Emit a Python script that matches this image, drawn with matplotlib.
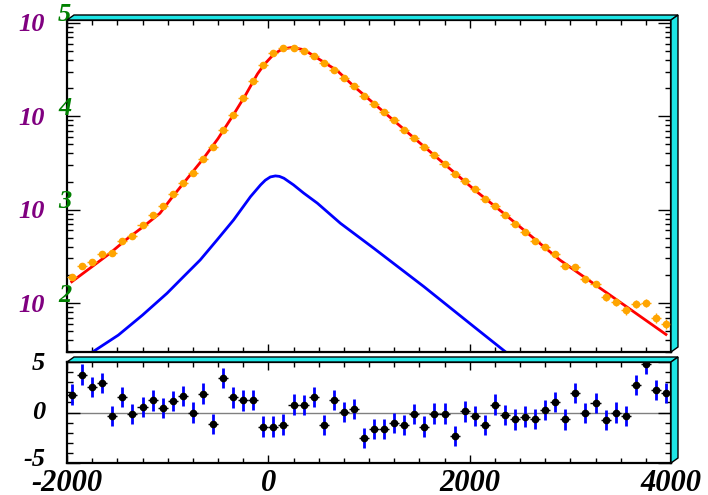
import numpy as np
import matplotlib
matplotlib.use("Agg")
import matplotlib.pyplot as plt
from matplotlib.patches import Polygon
from matplotlib.transforms import offset_copy, blended_transform_factory
from matplotlib.ticker import MultipleLocator, LogLocator, NullFormatter

plt.rcParams.update({
    "axes.unicode_minus": False,
    "xtick.direction": "in", "ytick.direction": "in",
    "xtick.top": True, "ytick.right": True,
    "xtick.major.size": 6, "xtick.minor.size": 3.5,
    "ytick.major.size": 9.5, "ytick.minor.size": 4.5,
    "xtick.major.width": 1, "xtick.minor.width": 1,
    "ytick.major.width": 1, "ytick.minor.width": 1,
    "xtick.major.pad": 4,
})

bin_width = 100
bin_centers = np.arange(-1950, 4000, bin_width)
counts = [191, 250, 273, 333, 341, 465, 526, 685, 877, 1096,
          1463, 1932, 2494, 3524, 4700, 7150, 10360, 15480, 23940, 35300,
          47450, 53200, 54100, 49400, 43650, 36700, 31200, 25600, 21000, 16560,
          13590, 11070, 9000, 7200, 5910, 4700, 3855, 3110, 2415, 2030,
          1652, 1291, 1104, 871, 703, 577, 465, 395, 335, 251,
          245, 179, 161, 117, 103, 84, 97.5, 101, 70, 60]
counts = np.array(counts)
count_err = np.sqrt(counts)

fit_x = [-1953, -1738, -1573, -1408, -1242, -1077, -950, -800, -650, -500,
         -350, -230, -109, -43, 56, 139, 233, 354, 486, 685,
         850, 1250, 1650, 2050, 2350, 2896, 3393, 3950]
fit_log = [2.228, 2.400, 2.533, 2.683, 2.818, 2.961, 3.14, 3.34, 3.54, 3.76,
           4.01, 4.22, 4.451, 4.551, 4.666, 4.719, 4.736, 4.712, 4.623, 4.487,
           4.32, 3.95, 3.58, 3.21, 2.95, 2.461, 2.086, 1.664]

comp_x = [-1755, -1490, -1250, -1007, -843, -677, -510, -345, -177, -77,
          -30, 20, 70, 110, 155, 250, 350, 487, 716, 1048, 1546, 2043, 2365]
comp_log = [1.470, 1.657, 1.871, 2.104, 2.282, 2.461, 2.675, 2.890, 3.139, 3.265,
            3.315, 3.350, 3.361, 3.356, 3.336, 3.265, 3.178, 3.069, 2.854,
            2.586, 2.175, 1.746, 1.470]

pulls = [1.78, 3.76, 2.51, 2.94, -0.33, 1.55, -0.13, 0.56, 1.19, 0.46,
         1.12, 1.62, 0.0, 1.88, -1.16, 3.40, 1.49, 1.19, 1.25, -1.39,
         -1.39, -1.19, 0.79, 0.76, 1.52, -1.22, 1.22, 0.07, 0.33, -2.51,
         -1.65, -1.65, -1.02, -1.22, -0.17, -1.39, -0.10, -0.10, -2.34, 0.10,
         -0.36, -1.25, 0.79, -0.23, -0.69, -0.40, -0.63, 0.26, 1.02, -0.69,
         1.91, -0.07, 0.96, -0.76, 0.0, -0.33, 2.74, 4.79, 2.21, 1.95]
pull_err = 1.0

x_ticks = [-2000, 0, 2000, 4000]
decades = [2, 3, 4, 5]
pull_ticks = [-5, 0, 5]

W, H = 708, 495
fig = plt.figure(figsize=(W / 100, H / 100), dpi=100)
L, R = 67, 671
ax1 = fig.add_axes([L / W, 1 - 352 / H, (R - L) / W, (352 - 20) / H])
ax2 = fig.add_axes([L / W, 1 - 463 / H, (R - L) / W, (463 - 362) / H])

font = dict(family="Liberation Serif", weight="bold", style="italic")
cyan = "#1ee6e6"

ax1.errorbar(bin_centers, counts, xerr=bin_width / 2, yerr=count_err, fmt="o",
             color="orange", ms=4.5, elinewidth=1, capsize=0, zorder=3)
ax1.plot(fit_x, 10 ** np.array(fit_log), color="red", lw=2, zorder=2)
ax1.plot(comp_x, 10 ** np.array(comp_log), color="blue", lw=2, zorder=2)
ax1.set_yscale("log")
ax1.set_ylim(10 ** 1.476, 10 ** 5.03)
ax1.set_xlim(-2000, 4000)
ax1.yaxis.set_major_locator(LogLocator(base=10, numticks=10))
ax1.yaxis.set_minor_locator(LogLocator(base=10, subs=np.arange(2, 10), numticks=20))
ax1.yaxis.set_major_formatter(NullFormatter())
ax1.yaxis.set_minor_formatter(NullFormatter())
ax1.xaxis.set_major_locator(MultipleLocator(2000))
ax1.xaxis.set_minor_locator(MultipleLocator(250))
ax1.xaxis.set_major_formatter(NullFormatter())

tr1 = blended_transform_factory(ax1.transAxes, ax1.transData)
for d in decades:
    ax1.text(-0.036, 10 ** d, "10", transform=offset_copy(tr1, fig=fig, y=-2, units="dots"),
             ha="right", va="center", fontsize=19, clip_on=False, color="purple", **font)
    ax1.text(-0.015, 10 ** d, str(d), transform=offset_copy(tr1, fig=fig, y=8, units="dots"),
             ha="left", va="center", fontsize=19, clip_on=False, color="green", **font)

ax2.axhline(0, color="gray", lw=1, zorder=1)
ax2.errorbar(bin_centers, pulls, yerr=pull_err, fmt="none", ecolor="blue",
             elinewidth=2, capsize=0, zorder=2)
ax2.errorbar(bin_centers, pulls, xerr=bin_width / 2, fmt="o", color="black",
             ms=4.5, elinewidth=1, capsize=0, zorder=3)
ax2.set_xlim(-2000, 4000)
ax2.set_ylim(-5, 5)
ax2.xaxis.set_major_locator(MultipleLocator(2000))
ax2.xaxis.set_minor_locator(MultipleLocator(250))
ax2.set_yticks(pull_ticks)
ax2.yaxis.set_minor_locator(MultipleLocator(1))
ax2.yaxis.set_major_formatter(NullFormatter())
ax2.set_xticks(x_ticks)
ax2.set_xticklabels([str(v) for v in x_ticks], fontsize=22, **font)

tr2 = blended_transform_factory(ax2.transAxes, ax2.transData)
for v in pull_ticks:
    shift = 3 if v < 0 else (-1 if v > 0 else 0)
    ax2.text(-0.036, v, str(v), transform=offset_copy(tr2, fig=fig, y=shift, units="dots"),
             ha="right", va="center", fontsize=19, clip_on=False, **font)

for ax in (ax1, ax2):
    for s in ax.spines.values():
        s.set_linewidth(1.6)
        s.set_color("black")

dx, dy = 7, 5
for ax in (ax1, ax2):
    bb = ax.get_position()
    l, r = bb.x0 * W, bb.x1 * W
    b, t = bb.y0 * H, bb.y1 * H
    top_band = [(l, t), (l + dx, t + dy), (r + dx, t + dy), (r, t)]
    right_band = [(r, t), (r + dx, t + dy), (r + dx, b + dy), (r, b)]
    for poly in (top_band, right_band):
        pts = [(px / W, py / H) for px, py in poly]
        fig.patches.append(Polygon(pts, closed=True, facecolor=cyan, edgecolor="black",
                                   lw=1, transform=fig.transFigure, figure=fig))

fig.savefig("out.png", dpi=100)
